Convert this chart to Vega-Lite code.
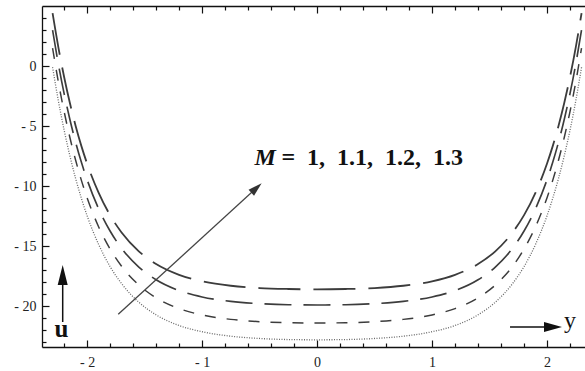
{
  "$schema": "https://vega.github.io/schema/vega-lite/v6.json",
  "width": 543,
  "height": 341,
  "autosize": "none",
  "padding": {"left": 42, "top": 6, "right": 0, "bottom": 24},
  "background": "white",
  "config": {
    "view": {"stroke": null},
    "font": "Liberation Serif, Times New Roman, serif",
    "text": {"font": "Liberation Serif, Times New Roman, serif"},
    "axis": {
      "labelFont": "Liberation Serif, Times New Roman, serif",
      "labelFontSize": 14,
      "labelColor": "#222",
      "domainColor": "#111",
      "tickColor": "#111",
      "domainWidth": 1.3,
      "tickWidth": 1.2,
      "grid": false,
      "title": null
    }
  },
  "datasets": {
    "curves": [
      {"M": "1.3", "y": -2.3, "u": 4.4}, {"M": "1.3", "y": -2.25, "u": 1.58}, {"M": "1.3", "y": -2.2, "u": -0.89}, {"M": "1.3", "y": -2.15, "u": -3.06}, {"M": "1.3", "y": -2.1, "u": -4.97}, {"M": "1.3", "y": -2.05, "u": -6.65}, {"M": "1.3", "y": -2.0, "u": -8.12}, {"M": "1.3", "y": -1.9, "u": -10.54}, {"M": "1.3", "y": -1.8, "u": -12.42}, {"M": "1.3", "y": -1.7, "u": -13.86}, {"M": "1.3", "y": -1.55, "u": -15.43}, {"M": "1.3", "y": -1.4, "u": -16.49}, {"M": "1.3", "y": -1.2, "u": -17.39}, {"M": "1.3", "y": -1.0, "u": -17.93}, {"M": "1.3", "y": -0.75, "u": -18.3}, {"M": "1.3", "y": -0.5, "u": -18.49}, {"M": "1.3", "y": -0.25, "u": -18.57},
      {"M": "1.3", "y": 0, "u": -18.6},
      {"M": "1.3", "y": 0.25, "u": -18.57}, {"M": "1.3", "y": 0.5, "u": -18.49}, {"M": "1.3", "y": 0.75, "u": -18.3}, {"M": "1.3", "y": 1.0, "u": -17.93}, {"M": "1.3", "y": 1.2, "u": -17.39}, {"M": "1.3", "y": 1.4, "u": -16.49}, {"M": "1.3", "y": 1.55, "u": -15.43}, {"M": "1.3", "y": 1.7, "u": -13.86}, {"M": "1.3", "y": 1.8, "u": -12.42}, {"M": "1.3", "y": 1.9, "u": -10.54}, {"M": "1.3", "y": 2.0, "u": -8.12}, {"M": "1.3", "y": 2.05, "u": -6.65}, {"M": "1.3", "y": 2.1, "u": -4.97}, {"M": "1.3", "y": 2.15, "u": -3.06}, {"M": "1.3", "y": 2.2, "u": -0.89}, {"M": "1.3", "y": 2.25, "u": 1.58}, {"M": "1.3", "y": 2.3, "u": 4.4},

      {"M": "1.2", "y": -2.3, "u": 3.0}, {"M": "1.2", "y": -2.25, "u": 0.19}, {"M": "1.2", "y": -2.2, "u": -2.27}, {"M": "1.2", "y": -2.15, "u": -4.43}, {"M": "1.2", "y": -2.1, "u": -6.33}, {"M": "1.2", "y": -2.05, "u": -8.0}, {"M": "1.2", "y": -2.0, "u": -9.46}, {"M": "1.2", "y": -1.9, "u": -11.88}, {"M": "1.2", "y": -1.8, "u": -13.74}, {"M": "1.2", "y": -1.7, "u": -15.18}, {"M": "1.2", "y": -1.55, "u": -16.74}, {"M": "1.2", "y": -1.4, "u": -17.8}, {"M": "1.2", "y": -1.2, "u": -18.7}, {"M": "1.2", "y": -1.0, "u": -19.23}, {"M": "1.2", "y": -0.75, "u": -19.6}, {"M": "1.2", "y": -0.5, "u": -19.79}, {"M": "1.2", "y": -0.25, "u": -19.88},
      {"M": "1.2", "y": 0, "u": -19.9},
      {"M": "1.2", "y": 0.25, "u": -19.88}, {"M": "1.2", "y": 0.5, "u": -19.79}, {"M": "1.2", "y": 0.75, "u": -19.6}, {"M": "1.2", "y": 1.0, "u": -19.23}, {"M": "1.2", "y": 1.2, "u": -18.7}, {"M": "1.2", "y": 1.4, "u": -17.8}, {"M": "1.2", "y": 1.55, "u": -16.74}, {"M": "1.2", "y": 1.7, "u": -15.18}, {"M": "1.2", "y": 1.8, "u": -13.74}, {"M": "1.2", "y": 1.9, "u": -11.88}, {"M": "1.2", "y": 2.0, "u": -9.46}, {"M": "1.2", "y": 2.05, "u": -8.0}, {"M": "1.2", "y": 2.1, "u": -6.33}, {"M": "1.2", "y": 2.15, "u": -4.43}, {"M": "1.2", "y": 2.2, "u": -2.27}, {"M": "1.2", "y": 2.25, "u": 0.19}, {"M": "1.2", "y": 2.3, "u": 3.0},

      {"M": "1.1", "y": -2.3, "u": 1.5}, {"M": "1.1", "y": -2.25, "u": -1.31}, {"M": "1.1", "y": -2.2, "u": -3.77}, {"M": "1.1", "y": -2.15, "u": -5.93}, {"M": "1.1", "y": -2.1, "u": -7.83}, {"M": "1.1", "y": -2.05, "u": -9.5}, {"M": "1.1", "y": -2.0, "u": -10.96}, {"M": "1.1", "y": -1.9, "u": -13.38}, {"M": "1.1", "y": -1.8, "u": -15.24}, {"M": "1.1", "y": -1.7, "u": -16.68}, {"M": "1.1", "y": -1.55, "u": -18.24}, {"M": "1.1", "y": -1.4, "u": -19.3}, {"M": "1.1", "y": -1.2, "u": -20.2}, {"M": "1.1", "y": -1.0, "u": -20.73}, {"M": "1.1", "y": -0.75, "u": -21.1}, {"M": "1.1", "y": -0.5, "u": -21.29}, {"M": "1.1", "y": -0.25, "u": -21.38},
      {"M": "1.1", "y": 0, "u": -21.4},
      {"M": "1.1", "y": 0.25, "u": -21.38}, {"M": "1.1", "y": 0.5, "u": -21.29}, {"M": "1.1", "y": 0.75, "u": -21.1}, {"M": "1.1", "y": 1.0, "u": -20.73}, {"M": "1.1", "y": 1.2, "u": -20.2}, {"M": "1.1", "y": 1.4, "u": -19.3}, {"M": "1.1", "y": 1.55, "u": -18.24}, {"M": "1.1", "y": 1.7, "u": -16.68}, {"M": "1.1", "y": 1.8, "u": -15.24}, {"M": "1.1", "y": 1.9, "u": -13.38}, {"M": "1.1", "y": 2.0, "u": -10.96}, {"M": "1.1", "y": 2.05, "u": -9.5}, {"M": "1.1", "y": 2.1, "u": -7.83}, {"M": "1.1", "y": 2.15, "u": -5.93}, {"M": "1.1", "y": 2.2, "u": -3.77}, {"M": "1.1", "y": 2.25, "u": -1.31}, {"M": "1.1", "y": 2.3, "u": 1.5},

      {"M": "1", "y": -2.3, "u": -0.1}, {"M": "1", "y": -2.25, "u": -2.88}, {"M": "1", "y": -2.2, "u": -5.32}, {"M": "1", "y": -2.15, "u": -7.46}, {"M": "1", "y": -2.1, "u": -9.35}, {"M": "1", "y": -2.05, "u": -11.0}, {"M": "1", "y": -2.0, "u": -12.46}, {"M": "1", "y": -1.9, "u": -14.85}, {"M": "1", "y": -1.8, "u": -16.7}, {"M": "1", "y": -1.7, "u": -18.12}, {"M": "1", "y": -1.55, "u": -19.67}, {"M": "1", "y": -1.4, "u": -20.72}, {"M": "1", "y": -1.2, "u": -21.61}, {"M": "1", "y": -1.0, "u": -22.13}, {"M": "1", "y": -0.75, "u": -22.5}, {"M": "1", "y": -0.5, "u": -22.69}, {"M": "1", "y": -0.25, "u": -22.78},
      {"M": "1", "y": 0, "u": -22.8},
      {"M": "1", "y": 0.25, "u": -22.78}, {"M": "1", "y": 0.5, "u": -22.69}, {"M": "1", "y": 0.75, "u": -22.5}, {"M": "1", "y": 1.0, "u": -22.13}, {"M": "1", "y": 1.2, "u": -21.61}, {"M": "1", "y": 1.4, "u": -20.72}, {"M": "1", "y": 1.55, "u": -19.67}, {"M": "1", "y": 1.7, "u": -18.12}, {"M": "1", "y": 1.8, "u": -16.7}, {"M": "1", "y": 1.9, "u": -14.85}, {"M": "1", "y": 2.0, "u": -12.46}, {"M": "1", "y": 2.05, "u": -11.0}, {"M": "1", "y": 2.1, "u": -9.35}, {"M": "1", "y": 2.15, "u": -7.46}, {"M": "1", "y": 2.2, "u": -5.32}, {"M": "1", "y": 2.25, "u": -2.88}, {"M": "1", "y": 2.3, "u": -0.1}
    ],
    "mArrow": [{"y": -1.729, "u": -20.68, "y2": -0.521, "u2": -10.11}],
    "mArrowTip": [{"y": -0.482, "u": -9.77}],
    "mSymbol": [{"y": -0.545, "u": -8.24, "label": "M"}],
    "mValues": [{"y": -0.31, "u": -8.24, "label": "=\u00a0\u00a01,\u00a0\u00a01.1,\u00a0\u00a01.2,\u00a0\u00a01.3"}],
    "uArrow": [{"y": -2.212, "u": -21.32, "y2": -2.212, "u2": -17.82}],
    "uArrowTip": [{"y": -2.212, "u": -16.57}],
    "uLabel": [{"y": -2.222, "u": -22.57, "label": "u"}],
    "yArrow": [{"y": 1.678, "u": -21.73, "y2": 1.982, "u2": -21.73}],
    "yArrowTip": [{"y": 2.13, "u": -21.73}],
    "yLabel": [{"y": 2.199, "u": -21.82, "label": "y"}]
  },
  "resolve": {"axis": {"x": "independent", "y": "independent"}},
  "layer": [
    {
      "data": {"name": "curves"},
      "mark": {"type": "line", "interpolate": "monotone", "strokeCap": "butt"},
      "encoding": {
        "x": {"field": "y", "type": "quantitative",
          "scale": {"domain": [-2.392, 2.33], "nice": false, "zero": false},
          "axis": {"orient": "bottom", "values": [-2, -1, 0, 1, 2], "tickSize": -7, "labelPadding": 15,
            "labelFont": "Liberation Serif, Times New Roman, serif",
            "labelExpr": "datum.value < 0 ? '- ' + (-datum.value) : '' + datum.value"}},
        "y": {"field": "u", "type": "quantitative",
          "scale": {"domain": [-23.4, 5], "nice": false, "zero": false},
          "axis": {"orient": "left", "values": [-20, -15, -10, -5, 0], "tickSize": -7, "labelPadding": 13,
            "labelFont": "Liberation Serif, Times New Roman, serif",
            "labelExpr": "datum.value < 0 ? '- ' + (-datum.value) : '' + datum.value"}},
        "color": {"field": "M", "type": "nominal", "legend": null,
          "scale": {"domain": ["1", "1.1", "1.2", "1.3"], "range": ["#6a6a6a", "#3c3c3c", "#3c3c3c", "#3c3c3c"]}},
        "strokeDash": {"field": "M", "type": "nominal", "legend": null,
          "scale": {"domain": ["1", "1.1", "1.2", "1.3"], "range": [[1, 1.5], [11, 11], [27, 12], [42, 13]]}},
        "strokeWidth": {"field": "M", "type": "nominal", "legend": null,
          "scale": {"domain": ["1", "1.1", "1.2", "1.3"], "range": [1.3, 1.8, 1.8, 1.8]}}
      }
    },
    {
      "data": {"name": "mArrow"},
      "mark": {"type": "rule", "color": "#444", "strokeWidth": 1.3},
      "encoding": {
        "x": {"field": "y", "type": "quantitative",
          "scale": {"domain": [-2.392, 2.33], "nice": false, "zero": false},
          "axis": {"orient": "bottom", "values": [-2.2, -1.8, -1.6, -1.4, -1.2, -0.8, -0.6, -0.4, -0.2, 0.2, 0.4, 0.6, 0.8, 1.2, 1.4, 1.6, 1.8, 2.2],
            "tickSize": -4, "labels": false, "domain": false}},
        "y": {"field": "u", "type": "quantitative",
          "scale": {"domain": [-23.4, 5], "nice": false, "zero": false},
          "axis": {"orient": "left", "values": [-23, -22, -21, -19, -18, -17, -16, -14, -13, -12, -11, -9, -8, -7, -6, -4, -3, -2, -1, 1, 2, 3, 4],
            "tickSize": -4, "labels": false, "domain": false}},
        "x2": {"field": "y2"},
        "y2": {"field": "u2"}
      }
    },
    {
      "data": {"name": "mArrowTip"},
      "mark": {"type": "point", "shape": "M0,0 L-0.29,1 L0.29,1 Z", "size": 784, "angle": 47.6, "filled": true, "color": "#333", "opacity": 1},
      "encoding": {
        "x": {"field": "y", "type": "quantitative",
          "scale": {"domain": [-2.392, 2.33], "nice": false, "zero": false},
          "axis": {"orient": "top", "values": [-2, -1, 0, 1, 2], "tickSize": -7, "labels": false}},
        "y": {"field": "u", "type": "quantitative",
          "scale": {"domain": [-23.4, 5], "nice": false, "zero": false}, "axis": null}
      }
    },
    {
      "data": {"name": "mSymbol"},
      "mark": {"type": "text", "font": "Liberation Serif, Times New Roman, serif", "fontSize": 24, "fontWeight": "bold", "fontStyle": "italic", "align": "left", "baseline": "alphabetic", "color": "#111"},
      "encoding": {
        "x": {"field": "y", "type": "quantitative",
          "scale": {"domain": [-2.392, 2.33], "nice": false, "zero": false},
          "axis": {"orient": "top", "values": [-2.2, -1.8, -1.6, -1.4, -1.2, -0.8, -0.6, -0.4, -0.2, 0.2, 0.4, 0.6, 0.8, 1.2, 1.4, 1.6, 1.8, 2.2],
            "tickSize": -4, "labels": false, "domain": false}},
        "y": {"field": "u", "type": "quantitative",
          "scale": {"domain": [-23.4, 5], "nice": false, "zero": false}, "axis": null},
        "text": {"field": "label"}
      }
    },
    {
      "data": {"name": "mValues"},
      "mark": {"type": "text", "font": "Liberation Serif, Times New Roman, serif", "fontSize": 24, "fontWeight": "bold", "align": "left", "baseline": "alphabetic", "color": "#111"},
      "encoding": {
        "x": {"field": "y", "type": "quantitative", "scale": {"domain": [-2.392, 2.33], "nice": false, "zero": false}, "axis": null},
        "y": {"field": "u", "type": "quantitative", "scale": {"domain": [-23.4, 5], "nice": false, "zero": false}, "axis": null},
        "text": {"field": "label"}
      }
    },
    {
      "data": {"name": "uArrow"},
      "mark": {"type": "rule", "color": "#111", "strokeWidth": 1.5},
      "encoding": {
        "x": {"field": "y", "type": "quantitative", "scale": {"domain": [-2.392, 2.33], "nice": false, "zero": false}, "axis": null},
        "y": {"field": "u", "type": "quantitative", "scale": {"domain": [-23.4, 5], "nice": false, "zero": false}, "axis": null},
        "x2": {"field": "y2"},
        "y2": {"field": "u2"}
      }
    },
    {
      "data": {"name": "uArrowTip"},
      "mark": {"type": "point", "shape": "M0,0 L-0.25,1 L0.25,1 Z", "size": 1600, "angle": 0, "filled": true, "color": "#111", "opacity": 1},
      "encoding": {
        "x": {"field": "y", "type": "quantitative", "scale": {"domain": [-2.392, 2.33], "nice": false, "zero": false}, "axis": null},
        "y": {"field": "u", "type": "quantitative", "scale": {"domain": [-23.4, 5], "nice": false, "zero": false}, "axis": null}
      }
    },
    {
      "data": {"name": "uLabel"},
      "mark": {"type": "text", "font": "Liberation Serif, Times New Roman, serif", "fontSize": 25, "fontWeight": "bold", "align": "center", "baseline": "alphabetic", "color": "#111"},
      "encoding": {
        "x": {"field": "y", "type": "quantitative", "scale": {"domain": [-2.392, 2.33], "nice": false, "zero": false}, "axis": null},
        "y": {"field": "u", "type": "quantitative", "scale": {"domain": [-23.4, 5], "nice": false, "zero": false}, "axis": null},
        "text": {"field": "label"}
      }
    },
    {
      "data": {"name": "yArrow"},
      "mark": {"type": "rule", "color": "#111", "strokeWidth": 1.5},
      "encoding": {
        "x": {"field": "y", "type": "quantitative", "scale": {"domain": [-2.392, 2.33], "nice": false, "zero": false}, "axis": null},
        "y": {"field": "u", "type": "quantitative", "scale": {"domain": [-23.4, 5], "nice": false, "zero": false}, "axis": null},
        "x2": {"field": "y2"},
        "y2": {"field": "u2"}
      }
    },
    {
      "data": {"name": "yArrowTip"},
      "mark": {"type": "point", "shape": "M0,0 L-0.28,1 L0.28,1 Z", "size": 1296, "angle": 90, "filled": true, "color": "#111", "opacity": 1},
      "encoding": {
        "x": {"field": "y", "type": "quantitative", "scale": {"domain": [-2.392, 2.33], "nice": false, "zero": false}, "axis": null},
        "y": {"field": "u", "type": "quantitative", "scale": {"domain": [-23.4, 5], "nice": false, "zero": false}, "axis": null}
      }
    },
    {
      "data": {"name": "yLabel"},
      "mark": {"type": "text", "font": "Liberation Serif, Times New Roman, serif", "fontSize": 24, "align": "center", "baseline": "alphabetic", "color": "#111"},
      "encoding": {
        "x": {"field": "y", "type": "quantitative", "scale": {"domain": [-2.392, 2.33], "nice": false, "zero": false}, "axis": null},
        "y": {"field": "u", "type": "quantitative", "scale": {"domain": [-23.4, 5], "nice": false, "zero": false}, "axis": null},
        "text": {"field": "label"}
      }
    }
  ]
}
